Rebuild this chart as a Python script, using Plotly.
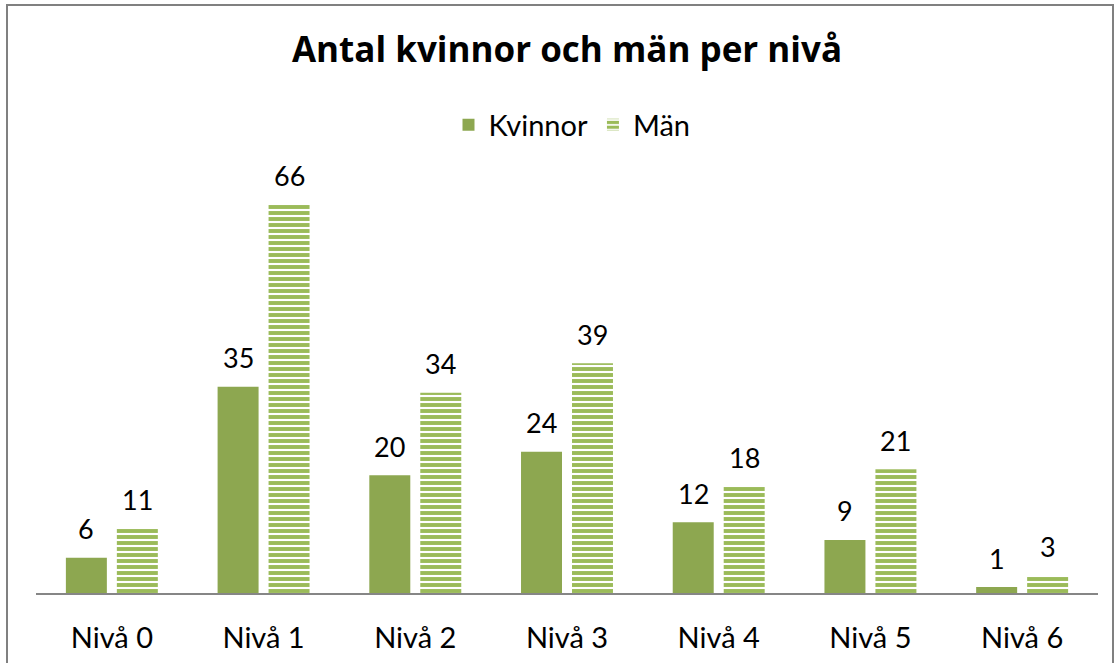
import plotly.graph_objects as go

categories = ["Nivå 0", "Nivå 1", "Nivå 2", "Nivå 3", "Nivå 4", "Nivå 5", "Nivå 6"]
kvinnor = [6, 35, 20, 24, 12, 9, 1]
man = [11, 66, 34, 39, 18, 21, 3]

FONT = "Lato"
TFONT = "Open Sans"
C_K = "#8DA750"
C_M = "#9BBB59"

W, H = 1115, 663
L, R, T, B = 36, 17, 150, 70
pw, ph = W - L - R, H - T - B

fig = go.Figure()
fig.add_trace(go.Bar(name="Kvinnor", x=categories, y=kvinnor,
                     marker=dict(color=C_K, line=dict(width=0))))
fig.add_trace(go.Bar(name="Män", x=categories, y=man,
                     marker=dict(color=C_M, line=dict(width=0),
                                 pattern=dict(shape="-", fgcolor=C_M, bgcolor="white",
                                              size=6, solidity=0.65, fillmode="replace"))))

ann = []
for vals, xs in ((kvinnor, -25.5), (man, 25.5)):
    for c, v in zip(categories, vals):
        ann.append(dict(x=c, y=v, text=str(v), showarrow=False, xshift=xs, yshift=29,
                        yanchor="middle", font=dict(family=FONT, size=27, color="black")))

def px2paper_x(p):
    return (p - L) / pw

def px2paper_y(p):
    return (H - B - p) / ph

fig.update_layout(
    width=W, height=H,
    margin=dict(l=L, r=R, t=T, b=B, autoexpand=False),
    paper_bgcolor="white", plot_bgcolor="white",
    barmode="group", bargap=0.328, bargroupgap=0.196,
    title=dict(text="<b>Antal kvinnor och män per nivå</b>", x=(567 / W), xanchor="center",
               y=1 - 50 / H, yanchor="middle",
               font=dict(family=TFONT, size=35, color="black")),
    legend=dict(orientation="h", x=px2paper_x(572), xanchor="center",
                y=px2paper_y(125), yanchor="middle",
                font=dict(family=FONT, size=29, color="black"),
                itemwidth=30, bgcolor="rgba(0,0,0,0)"),
    xaxis=dict(showline=True, linecolor="#868686", linewidth=2, ticks="",
               tickfont=dict(family=FONT, size=29, color="black"),
               ticklabelstandoff=18, showgrid=False, zeroline=False, automargin=False),
    yaxis=dict(range=[0, ph / 5.89], visible=False, showgrid=False, zeroline=False,
               automargin=False),
    annotations=ann,
    shapes=[dict(type="rect", xref="paper", yref="paper",
                 x0=px2paper_x(7), x1=px2paper_x(1113),
                 y0=px2paper_y(670), y1=px2paper_y(5),
                 line=dict(color="#808080", width=2), fillcolor="rgba(0,0,0,0)")],
    showlegend=True,
)

fig.write_html("out.html", config={"displayModeBar": False},
               post_script="document.body.style.margin='0';document.body.style.padding='0';")
